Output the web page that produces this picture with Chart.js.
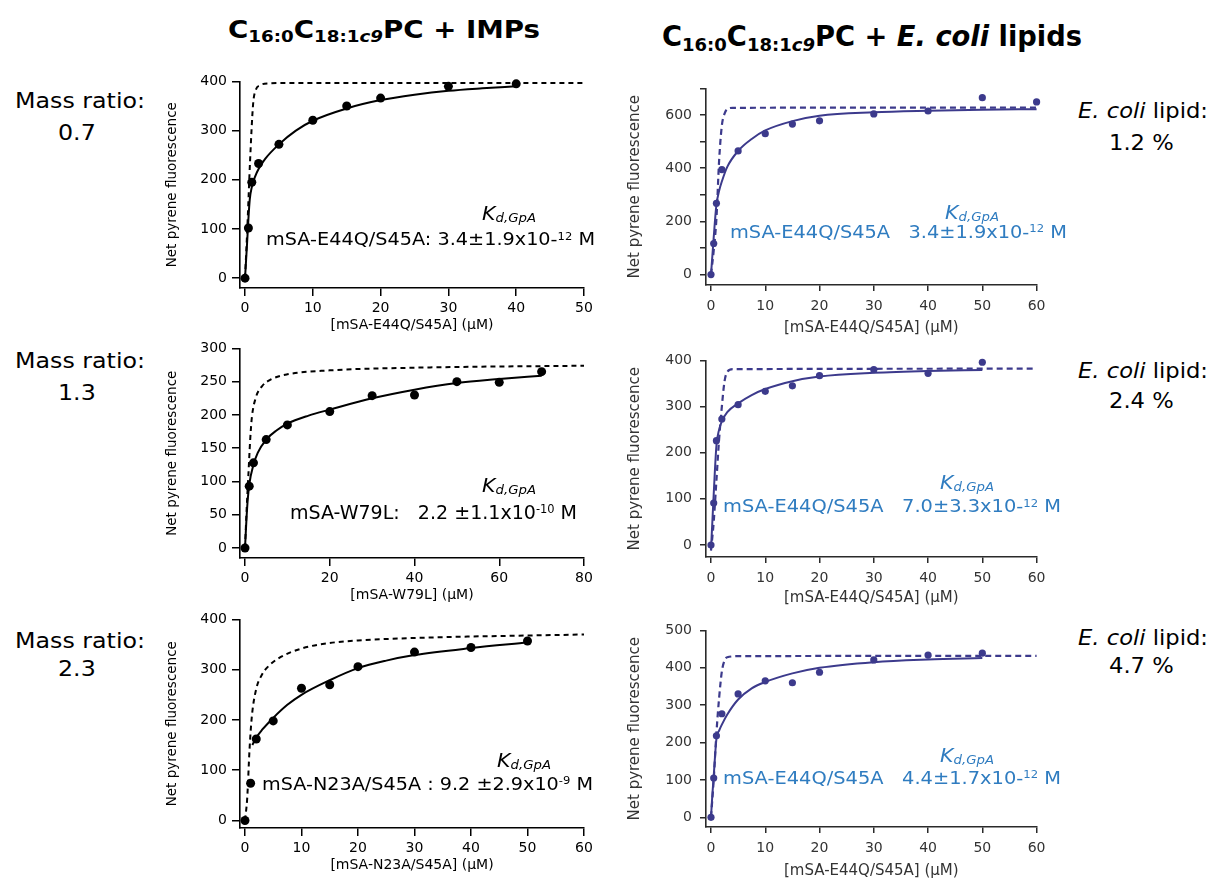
<!DOCTYPE html>
<html>
<head>
<meta charset="utf-8">
<title>mSA binding to GpA: pyrene fluorescence titrations</title>
<script src="https://cdn.jsdelivr.net/npm/chart.js@4.4.1/dist/chart.umd.min.js"></script>
<style>
  html, body { margin: 0; padding: 0; background: #fff; }
  #figure { position: relative; width: 1217px; height: 880px; overflow: hidden; font-family: "DejaVu Sans", sans-serif; }
  #figure canvas { position: absolute; }
  .lbl { position: absolute; white-space: pre; line-height: 1; transform-origin: 0 0; }
  .lbl sub, .lbl sup { position: relative; vertical-align: 0; }
  .lbl sub { font-size: 0.65em; top: 0.2em; }
  .lbl sup { font-size: 0.6em; top: -0.5em; }
  .lbl.head sub { font-size: 0.66em; top: 0.27em; }
</style>
</head>
<body>
<div id="figure"></div>
<script>
// ---- titration data: [mSA] (uM) vs net pyrene fluorescence ----

// IMPs, mass ratio 0.7
const imp07Conc  = [0, 0.5, 1, 2, 5, 10, 15, 20, 30, 40];
const imp07Fluor = [0, 102, 195, 233, 272, 321, 350, 366, 390, 395];
const imp07FitConc  = [0, 0.3, 0.5, 0.7, 1, 1.5, 2, 3, 5, 7.5, 10, 15, 20, 25, 30, 35, 40];
const imp07FitFluor = [0, 70, 120, 160, 185, 207, 222, 243, 272, 300, 320, 345, 362, 373, 381, 386, 390];
const imp07RefConc  = [0, 0.35, 0.75, 1.2, 1.6, 2.2, 3.5, 6, 50];
const imp07RefFluor = [0, 105, 240, 355, 383, 392, 396, 397, 397];

// IMPs, mass ratio 1.3
const imp13Conc  = [0, 1, 2, 5, 10, 20, 30, 40, 50, 60, 70];
const imp13Fluor = [0, 93, 128, 163, 185, 205, 229, 230, 250, 249, 265];
const imp13FitConc  = [0, 0.5, 1, 2, 3, 5, 7.5, 10, 15, 20, 30, 40, 50, 60, 70];
const imp13FitFluor = [0, 60, 95, 125, 143, 163, 177, 187, 199, 208, 225, 238, 248, 254, 259];
const imp13RefConc  = [0, 0.4, 0.8, 1.2, 1.6, 2.5, 4, 6, 10, 20, 40, 80];
const imp13RefFluor = [0, 60, 110, 160, 195, 225, 243, 253, 261, 267, 271, 274];

// IMPs, mass ratio 2.3
const imp23Conc  = [0, 1, 2, 5, 10, 15, 20, 30, 40, 50];
const imp23Fluor = [0, 74, 162, 198, 263, 270, 306, 335, 344, 357];
const imp23FitConc  = [1.3, 2, 3, 5, 7.5, 10, 15, 20, 25, 30, 40, 50];
const imp23FitFluor = [150, 165, 180, 204, 230, 250, 279, 303, 318, 329, 343, 354];
const imp23RefConc  = [0, 0.4, 0.8, 1.2, 2, 3, 4, 6, 10, 15, 20, 30, 60];
const imp23RefFluor = [0, 45, 140, 205, 262, 290, 305, 323, 342, 353, 358, 363, 370];

// E. coli lipid 1.2 %
const eco12Conc  = [0, 0.5, 1, 2, 5, 10, 15, 20, 30, 40, 50, 60];
const eco12Fluor = [0, 117, 268, 395, 465, 530, 566, 578, 604, 615, 665, 649];
const eco12FitConc  = [0, 0.25, 0.5, 1, 1.5, 2, 3, 5, 7.5, 10, 15, 20, 30, 40, 50, 60];
const eco12FitFluor = [0, 70, 140, 262, 315, 350, 405, 465, 510, 542, 577, 597, 610, 616, 620, 622];
const eco12RefConc  = [0, 0.5, 1, 1.5, 2, 2.5, 3, 4, 60];
const eco12RefFluor = [0, 90, 210, 430, 560, 605, 622, 627, 628];

// E. coli lipid 2.4 %
const eco24Conc  = [0, 0.5, 1, 2, 5, 10, 15, 20, 30, 40, 50];
const eco24Fluor = [0, 91, 226, 273, 304, 333, 345, 367, 380, 372, 396];
const eco24FitConc  = [0, 0.25, 0.5, 1, 1.5, 2, 3, 5, 7.5, 10, 15, 20, 30, 40, 50];
const eco24FitFluor = [-10, 50, 110, 215, 250, 268, 288, 307, 325, 338, 355, 365, 373, 377, 379];
const eco24RefConc  = [0, 0.5, 1, 1.5, 2, 2.5, 3, 4, 60];
const eco24RefFluor = [-12, 50, 140, 230, 300, 355, 375, 381, 382];

// E. coli lipid 4.7 %
const eco47Conc  = [0, 0.5, 1, 2, 5, 10, 15, 20, 30, 40, 50];
const eco47Fluor = [0, 105, 218, 277, 330, 365, 360, 388, 421, 434, 439];
const eco47FitConc  = [0, 0.25, 0.5, 1, 1.5, 2, 3, 5, 7.5, 10, 15, 20, 30, 40, 50];
const eco47FitFluor = [0, 60, 110, 210, 232, 248, 275, 315, 345, 362, 385, 400, 415, 422, 426];
const eco47RefConc  = [0, 0.5, 1, 1.5, 2, 2.5, 3, 5, 60];
const eco47RefFluor = [0, 100, 225, 320, 390, 420, 428, 431, 432];

// ---- tick values ----
const imp07XTicks = [0, 10, 20, 30, 40, 50];
const imp07YTicks = [0, 100, 200, 300, 400];
const imp13XTicks = [0, 20, 40, 60, 80];
const imp13YTicks = [0, 50, 100, 150, 200, 250, 300];
const imp23XTicks = [0, 10, 20, 30, 40, 50, 60];
const imp23YTicks = [0, 100, 200, 300, 400];
const ecoXTicks   = [0, 10, 20, 30, 40, 50, 60];
const eco12YTicks = [0, 100, 200, 300, 400, 500, 600, 700];
const eco12YLabels = [0, 200, 400, 600];
const eco24YTicks = [0, 100, 200, 300, 400];
const eco47YTicks = [0, 100, 200, 300, 400, 500];

const FONT = '"DejaVu Sans", sans-serif';
const BLUE = '#2f7cc0';

const styles = {
  left:  { color: '#000', axis: '#000', text: '#000', radius: 4.5, dash: [5, 4], dashWidth: 2,
           yBox: 80, xBox: 50, tick: 8, yPad: 5, xPad: 4, titleSize: 13.5, xTitleSize: 14 },
  right: { color: '#3c3a8c', axis: '#2a2a2a', text: '#333', radius: 3.6, dash: [6, 4], dashWidth: 2.2,
           yBox: 84, xBox: 56, tick: 6, yPad: 8, xPad: 6.5, titleSize: 15, xTitleSize: 15 }
};

// chart area in page pixels: [left, top, right, bottom]
const panels = [
  { side: 'left', area: [240, 80, 584, 288], xMin: -0.74, xMax: 50, yMin: -20, yMax: 400,
    conc: imp07Conc, fluor: imp07Fluor, fitC: imp07FitConc, fitF: imp07FitFluor, refC: imp07RefConc, refF: imp07RefFluor,
    xTicks: imp07XTicks, yTicks: imp07YTicks, xTitle: '[mSA-E44Q/S45A] (μM)', titleX: 172, titleY: 325 },
  { side: 'right', area: [706, 84, 1038, 285], xMin: -0.92, xMax: 60, yMin: -39, yMax: 700,
    conc: eco12Conc, fluor: eco12Fluor, fitC: eco12FitConc, fitF: eco12FitFluor, refC: eco12RefConc, refF: eco12RefFluor,
    xTicks: ecoXTicks, yTicks: eco12YTicks, yLabels: eco12YLabels, xTitle: '[mSA-E44Q/S45A] (μM)', titleX: 635, titleY: 328 },
  { side: 'left', area: [240, 347, 584, 558], xMin: -1.18, xMax: 80, yMin: -15, yMax: 300,
    conc: imp13Conc, fluor: imp13Fluor, fitC: imp13FitConc, fitF: imp13FitFluor, refC: imp13RefConc, refF: imp13RefFluor,
    xTicks: imp13XTicks, yTicks: imp13YTicks, xTitle: '[mSA-W79L] (μM)', titleX: 172, titleY: 595 },
  { side: 'right', area: [706, 356, 1038, 557], xMin: -0.92, xMax: 60, yMin: -26, yMax: 400,
    conc: eco24Conc, fluor: eco24Fluor, fitC: eco24FitConc, fitF: eco24FitFluor, refC: eco24RefConc, refF: eco24RefFluor,
    xTicks: ecoXTicks, yTicks: eco24YTicks, xTitle: '[mSA-E44Q/S45A] (μM)', titleX: 635, titleY: 598 },
  { side: 'left', area: [240, 618, 584, 828], xMin: -0.88, xMax: 60, yMin: -15, yMax: 400,
    conc: imp23Conc, fluor: imp23Fluor, fitC: imp23FitConc, fitF: imp23FitFluor, refC: imp23RefConc, refF: imp23RefFluor,
    xTicks: imp23XTicks, yTicks: imp23YTicks, xTitle: '[mSA-N23A/S45A] (μM)', titleX: 172, titleY: 865 },
  { side: 'right', area: [706, 626, 1038, 827], xMin: -0.92, xMax: 60, yMin: -26, yMax: 500,
    conc: eco47Conc, fluor: eco47Fluor, fitC: eco47FitConc, fitF: eco47FitFluor, refC: eco47RefConc, refF: eco47RefFluor,
    xTicks: ecoXTicks, yTicks: eco47YTicks, xTitle: '[mSA-E44Q/S45A] (μM)', titleX: 635, titleY: 871 }
];

const fig = document.getElementById('figure');

function xy(xs, ys) {
  return xs.map((x, i) => ({ x: x, y: ys[i] }));
}

function makePanel(p) {
  const st = styles[p.side];
  const [l, t, r, b] = p.area;
  const padT = 12, padR = 14;
  const canvas = document.createElement('canvas');
  canvas.width = st.yBox + (r - l) + padR;
  canvas.height = padT + (b - t) + st.xBox;
  canvas.style.left = (l - st.yBox) + 'px';
  canvas.style.top = (t - padT) + 'px';
  fig.appendChild(canvas);

  const yLh = st.titleSize * 1.2, xLh = st.xTitleSize * 1.2;
  const yTitlePad = Math.max(0, p.titleX - (l - st.yBox) - yLh / 2);
  const xTitlePad = Math.max(0, (b + st.xBox) - p.titleY - xLh / 2);

  const axisCommon = {
    type: 'linear',
    grid: { display: true, drawOnChartArea: false, drawTicks: true, tickLength: st.tick, color: st.axis, lineWidth: 1.5 },
    border: { display: true, color: st.axis, width: 1.6 }
  };

  new Chart(canvas, {
    type: 'scatter',
    data: {
      datasets: [
        { data: xy(p.conc, p.fluor), showLine: false, pointRadius: st.radius, pointBackgroundColor: st.color,
          pointBorderWidth: 0, clip: false },
        { data: xy(p.fitC, p.fitF), showLine: true, pointRadius: 0, borderColor: st.color, borderWidth: 2,
          cubicInterpolationMode: 'monotone', clip: false },
        { data: xy(p.refC, p.refF), showLine: true, pointRadius: 0, borderColor: st.color, borderWidth: st.dashWidth,
          borderDash: st.dash, cubicInterpolationMode: 'monotone', clip: false }
      ]
    },
    options: {
      responsive: false,
      animation: false,
      events: [],
      layout: { padding: { top: padT, right: padR, left: 0, bottom: 0 } },
      plugins: { legend: { display: false }, tooltip: { enabled: false } },
      scales: {
        x: Object.assign({}, axisCommon, {
          min: p.xMin, max: p.xMax,
          ticks: { font: { family: FONT, size: 14 }, color: st.text, padding: st.xPad, maxRotation: 0, autoSkip: false },
          afterBuildTicks: s => { s.ticks = p.xTicks.map(v => ({ value: v })); },
          afterFit: s => { s.height = st.xBox; },
          title: { display: true, text: p.xTitle, color: st.text, font: { family: FONT, size: st.xTitleSize },
                   padding: { top: 0, bottom: xTitlePad } }
        }),
        y: Object.assign({}, axisCommon, {
          min: p.yMin, max: p.yMax,
          ticks: { font: { family: FONT, size: 14 }, color: st.text, padding: st.yPad, autoSkip: false,
                   callback: v => (!p.yLabels || p.yLabels.includes(v)) ? String(v) : '' },
          afterBuildTicks: s => { s.ticks = p.yTicks.map(v => ({ value: v })); },
          afterFit: s => { s.width = st.yBox; },
          title: { display: true, text: 'Net pyrene fluorescence', color: st.text, font: { family: FONT, size: st.titleSize },
                   padding: { top: yTitlePad, bottom: 0 } }
        })
      }
    }
  });
}

panels.forEach(makePanel);

// ---- text: headings, row labels, Kd annotations ----
function placeText(html, o) {
  const el = document.createElement('div');
  el.className = 'lbl' + (o.cls ? ' ' + o.cls : '');
  el.innerHTML = html;
  el.style.fontSize = o.size + 'px';
  el.style.fontWeight = o.bold ? 'bold' : 'normal';
  el.style.color = o.color || '#000';
  fig.appendChild(el);
  const w = el.getBoundingClientRect().width;
  const k = o.width ? o.width / w : (o.scale || 1);
  const left = o.center !== undefined ? o.center - w * k / 2 : o.left;
  el.style.left = left + 'px';
  el.style.top = (o.baseline - 0.846 * o.size) + 'px';
  el.style.transform = 'scaleX(' + k + ')';
  return k;
}

placeText('C<sub>16:0</sub>C<sub>18:1<i>c9</i></sub>PC + IMPs',
  { left: 228, baseline: 38, size: 25, bold: true, width: 312, cls: 'head' });
placeText('C<sub>16:0</sub>C<sub>18:1<i>c9</i></sub>PC + <i>E. coli</i> lipids',
  { left: 662, baseline: 46.5, size: 28, bold: true, width: 420, cls: 'head' });

const massRatios = ['0.7', '1.3', '2.3'];
const lipidShares = ['1.2 %', '2.4 %', '4.7 %'];
const leftRows = [[108, 140], [368, 400], [648, 676]];
const rightRows = [[118, 150], [378, 408], [645, 673]];

massRatios.forEach((m, i) => {
  const k = placeText('Mass ratio:', { center: 80, baseline: leftRows[i][0], size: 20.5, width: 130 });
  placeText(m, { center: 77, baseline: leftRows[i][1], size: 20.5, scale: k });
});
lipidShares.forEach((s, i) => {
  const k = placeText('<i>E. coli</i> lipid:', { center: 1143, baseline: rightRows[i][0], size: 20.5, width: 130 });
  placeText(s, { center: 1141, baseline: rightRows[i][1], size: 20.5, scale: k });
});

const kdLabel = '<i>K<sub>d,GpA</sub></i>';
const kdNotes = [
  { kx: 482, kb: 220, mx: 266, mb: 245.5, mw: 329, size: 18, color: '#000',
    text: 'mSA-E44Q/S45A: 3.4±1.9x10-<sup>12</sup> M' },
  { kx: 482, kb: 492, mx: 290, mb: 519, mw: 287, size: 19, color: '#000',
    text: 'mSA-W79L:   2.2 ±1.1x10<sup>-10</sup> M' },
  { kx: 497, kb: 767, mx: 262, mb: 790, mw: 331, size: 18, color: '#000',
    text: 'mSA-N23A/S45A : 9.2 ±2.9x10<sup>-9</sup> M' },
  { kx: 945, kb: 219, mx: 730, mb: 238, mw: 337, size: 18, color: BLUE,
    text: 'mSA-E44Q/S45A   3.4±1.9x10-<sup>12</sup> M' },
  { kx: 940, kb: 489, mx: 723, mb: 512.5, mw: 338, size: 18, color: BLUE,
    text: 'mSA-E44Q/S45A   7.0±3.3x10-<sup>12</sup> M' },
  { kx: 940, kb: 762, mx: 723, mb: 784, mw: 338, size: 18, color: BLUE,
    text: 'mSA-E44Q/S45A   4.4±1.7x10-<sup>12</sup> M' }
];
kdNotes.forEach(n => {
  placeText(kdLabel, { left: n.kx, baseline: n.kb, size: 19, width: 54, color: n.color });
  placeText(n.text, { left: n.mx, baseline: n.mb, size: n.size, width: n.mw, color: n.color });
});
</script>
</body>
</html>
